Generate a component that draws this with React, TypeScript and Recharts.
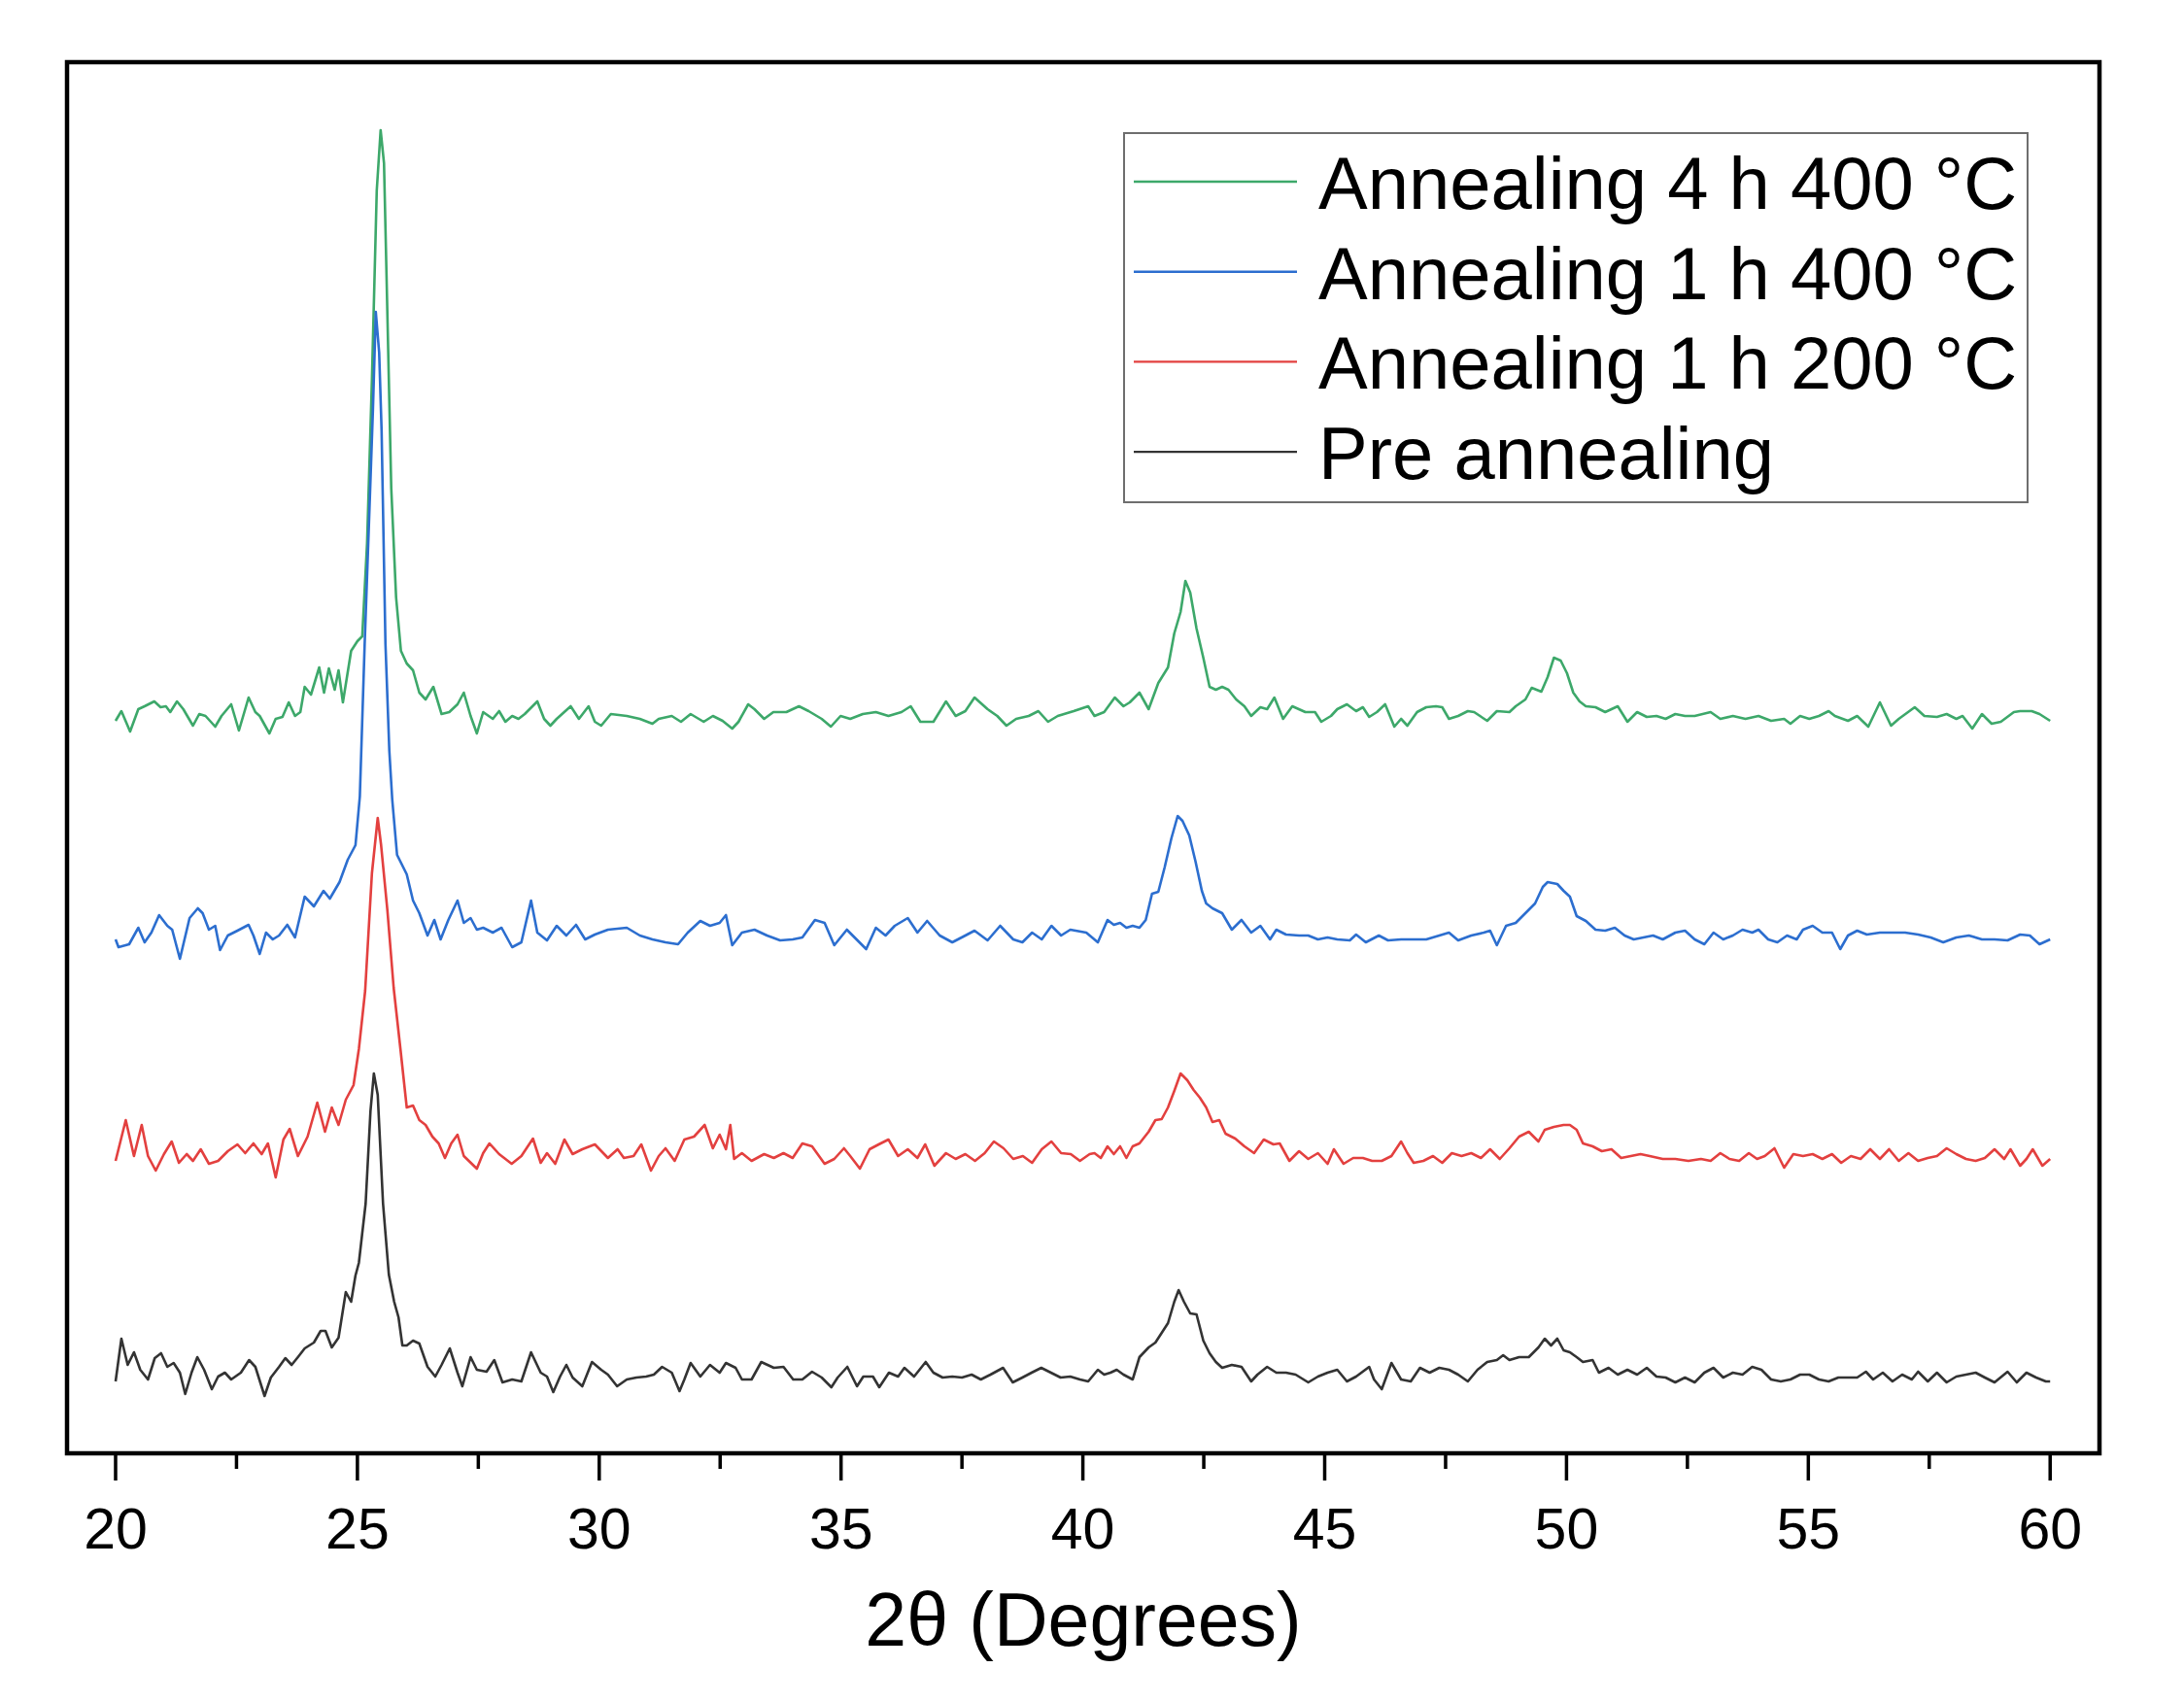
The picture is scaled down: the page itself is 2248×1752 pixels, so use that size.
import React from 'react';
import { LineChart, Line, XAxis, YAxis, ReferenceArea, Legend, Label } from 'recharts';

const FONT = '"Liberation Sans", Arial, Helvetica, sans-serif';

// ---- series meta ----
const seriesNames = ['Annealing 4 h 400 °C', 'Annealing 1 h 400 °C', 'Annealing 1 h 200 °C', 'Pre annealing'];
const seriesColors = ['#3DA86A', '#2C6ECF', '#E3403F', '#333333'];
// vertical stacking offsets (a.u.) for green, blue, red, black
const stackOffsets = [759, 533, 307, 81];

// ---- x axis ticks ----
const xTicks = [20, 22.5, 25, 27.5, 30, 32.5, 35, 37.5, 40, 42.5, 45, 47.5, 50, 52.5, 55, 57.5, 60];
const majorTickLabels = ['20', '25', '30', '35', '40', '45', '50', '55', '60'];

// ---- Annealing 4 h 400 °C (green) ----
const greenTheta = [
  20.00, 20.12, 20.30, 20.47, 20.60, 20.80, 20.93, 21.04, 21.13, 21.27,
  21.40, 21.60, 21.73, 21.86, 22.06, 22.19, 22.39, 22.55, 22.75, 22.89,
  22.98, 23.18, 23.31, 23.45, 23.58, 23.71, 23.82, 23.91, 24.04, 24.21,
  24.31, 24.41, 24.53, 24.61, 24.70, 24.87, 25.00, 25.10, 25.20, 25.30,
  25.40, 25.48, 25.55, 25.60, 25.70, 25.80, 25.90, 26.02, 26.15, 26.28,
  26.41, 26.57, 26.74, 26.90, 27.07, 27.20, 27.34, 27.47, 27.60, 27.80,
  27.93, 28.06, 28.20, 28.33, 28.46, 28.72, 28.86, 28.99, 29.12, 29.41,
  29.58, 29.78, 29.91, 30.04, 30.24, 30.57, 30.84, 31.10, 31.23, 31.50,
  31.69, 31.89, 32.16, 32.35, 32.55, 32.75, 32.88, 33.08, 33.21, 33.41,
  33.60, 33.87, 34.13, 34.33, 34.60, 34.79, 34.99, 35.19, 35.45, 35.72,
  35.98, 36.25, 36.44, 36.64, 36.91, 37.17, 37.37, 37.57, 37.76, 38.03,
  38.23, 38.42, 38.62, 38.88, 39.08, 39.28, 39.48, 39.81, 40.11, 40.24,
  40.44, 40.66, 40.84, 40.97, 41.17, 41.36, 41.56, 41.76, 41.89, 42.02,
  42.12, 42.22, 42.35, 42.49, 42.62, 42.75, 42.88, 43.01, 43.17, 43.34,
  43.48, 43.67, 43.81, 43.96, 44.14, 44.33, 44.60, 44.80, 44.93, 45.13,
  45.26, 45.46, 45.65, 45.79, 45.92, 46.08, 46.25, 46.44, 46.58, 46.71,
  46.91, 47.10, 47.30, 47.43, 47.57, 47.76, 47.96, 48.09, 48.36, 48.56,
  48.82, 48.95, 49.15, 49.28, 49.48, 49.61, 49.74, 49.88, 50.01, 50.14,
  50.27, 50.40, 50.60, 50.80, 51.06, 51.26, 51.46, 51.66, 51.86, 52.05,
  52.25, 52.45, 52.65, 52.98, 53.18, 53.44, 53.70, 53.97, 54.23, 54.50,
  54.63, 54.83, 55.02, 55.22, 55.42, 55.55, 55.82, 56.01, 56.24, 56.48,
  56.71, 56.87, 57.20, 57.40, 57.66, 57.86, 58.06, 58.19, 58.39, 58.59,
  58.79, 58.98, 59.25, 59.38, 59.62, 59.78, 60.00,
];
const greenIntensity = [
  -5, 5, -16, 7, 10, 15, 9, 10, 4, 15,
  7, -10, 2, 0, -11, 0, 12, -15, 19, 4,
  0, -18, -3, -1, 14, 0, 4, 30, 22, 50,
  24, 49, 27, 47, 14, 67, 77, 82, 178, 346,
  541, 603, 569, 458, 234, 122, 67, 54, 47, 24,
  17, 30, 2, 4, 12, 24, 0, -18, 4, -3,
  5, -6, 0, -3, 2, 15, -3, -10, -3, 10,
  -3, 10, -6, -10, 2, 0, -3, -8, -3, 0,
  -6, 2, -6, 0, -5, -13, -6, 12, 7, -3,
  4, 4, 10, 5, -3, -11, 0, -3, 2, 4,
  0, 4, 10, -6, -6, 15, 0, 5, 19, 7,
  0, -10, -3, 0, 5, -6, 0, 5, 10, 0,
  4, 19, 10, 14, 24, 7, 34, 50, 85, 107,
  139, 127, 90, 60, 30, 27, 30, 27, 17, 10,
  0, 9, 7, 19, -3, 10, 4, 4, -6, 0,
  7, 12, 5, 9, -1, 4, 12, -11, -3, -10,
  4, 9, 10, 9, -3, 0, 5, 4, -5, 5,
  4, 10, 17, 29, 25, 40, 60, 57, 44, 24,
  15, 10, 9, 4, 10, -6, 4, -1, 0, -3,
  2, 0, 0, 4, -3, 0, -3, 0, -5, -3,
  -8, 0, -3, 0, 5, 0, -5, 0, -11, 14,
  -10, -3, 9, 0, -1, 2, -3, 0, -13, 2,
  -8, -6, 4, 5, 5, 2, -5,
];

// ---- Annealing 1 h 400 °C (blue) ----
const blueTheta = [
  20.00, 20.06, 20.28, 20.47, 20.60, 20.74, 20.90, 21.07, 21.17, 21.33,
  21.53, 21.70, 21.80, 21.93, 22.06, 22.16, 22.32, 22.52, 22.75, 22.85,
  22.98, 23.11, 23.25, 23.38, 23.55, 23.71, 23.91, 24.10, 24.30, 24.43,
  24.63, 24.80, 24.96, 25.05, 25.15, 25.25, 25.32, 25.38, 25.45, 25.50,
  25.58, 25.66, 25.72, 25.82, 26.02, 26.15, 26.28, 26.45, 26.59, 26.72,
  26.88, 27.07, 27.20, 27.34, 27.47, 27.60, 27.80, 27.98, 28.20, 28.39,
  28.59, 28.72, 28.92, 29.12, 29.32, 29.52, 29.71, 29.91, 30.18, 30.57,
  30.84, 31.10, 31.37, 31.63, 31.83, 32.09, 32.29, 32.49, 32.62, 32.75,
  32.95, 33.21, 33.47, 33.74, 34.00, 34.20, 34.46, 34.66, 34.86, 35.12,
  35.32, 35.52, 35.72, 35.92, 36.11, 36.38, 36.58, 36.78, 37.04, 37.30,
  37.57, 37.76, 38.03, 38.29, 38.56, 38.75, 38.95, 39.15, 39.35, 39.55,
  39.74, 40.07, 40.31, 40.51, 40.64, 40.77, 40.90, 41.03, 41.17, 41.30,
  41.43, 41.56, 41.69, 41.83, 41.96, 42.06, 42.20, 42.33, 42.46, 42.55,
  42.68, 42.88, 43.08, 43.28, 43.48, 43.67, 43.87, 44.00, 44.20, 44.47,
  44.66, 44.86, 45.06, 45.26, 45.52, 45.65, 45.85, 46.12, 46.31, 46.58,
  46.84, 47.10, 47.37, 47.57, 47.76, 48.03, 48.29, 48.42, 48.56, 48.75,
  48.95, 49.15, 49.35, 49.51, 49.61, 49.81, 49.94, 50.07, 50.21, 50.40,
  50.60, 50.80, 51.00, 51.20, 51.39, 51.59, 51.79, 51.99, 52.25, 52.45,
  52.65, 52.85, 53.04, 53.24, 53.44, 53.64, 53.84, 53.97, 54.17, 54.36,
  54.56, 54.76, 54.89, 55.09, 55.29, 55.49, 55.66, 55.82, 56.01, 56.21,
  56.48, 56.74, 57.00, 57.27, 57.53, 57.79, 58.06, 58.32, 58.59, 58.85,
  59.12, 59.38, 59.58, 59.78, 60.00,
];
const blueIntensity = [
  -4, -12, -9, 8, -7, 3, 21, 10, 6, -24,
  18, 28, 23, 6, 10, -15, 0, 5, 11, 0,
  -19, 3, -4, 0, 11, -2, 40, 30, 46, 38,
  55, 78, 93, 143, 300, 440, 540, 642, 600, 520,
  300, 190, 140, 83, 63, 36, 23, 0, 16, -4,
  16, 36, 13, 18, 6, 8, 3, 8, -12, -7,
  36, 3, -5, 10, 0, 11, -4, 1, 6, 8,
  0, -4, -7, -9, 3, 15, 10, 13, 21, -10,
  3, 6, 0, -5, -4, -2, 16, 13, -10, 6,
  -4, -14, 8, 0, 10, 18, 3, 15, 0, -7,
  0, 5, -5, 10, -4, -7, 3, -4, 10, 0,
  6, 3, -7, 16, 11, 13, 8, 10, 8, 16,
  43, 45, 70, 100, 123, 118, 103, 76, 46, 33,
  28, 23, 6, 16, 3, 10, -4, 6, 1, 0,
  0, -4, -2, -4, -5, 1, -7, 0, -5, -4,
  -4, -4, 0, 3, -5, 0, 3, 5, -10, 10,
  13, 23, 33, 50, 55, 53, 46, 40, 20, 15,
  6, 5, 8, 0, -4, -2, 0, -4, 3, 5,
  -4, -9, 3, -4, 0, 6, 3, 6, -4, -7,
  0, -4, 6, 10, 3, 3, -14, 0, 5, 1,
  3, 3, 3, 1, -2, -7, -2, 0, -4, -4,
  -5, 1, 0, -9, -4,
];

// ---- Annealing 1 h 200 °C (red) ----
const redTheta = [
  20.00, 20.21, 20.38, 20.54, 20.67, 20.83, 21.00, 21.16, 21.31, 21.47,
  21.60, 21.76, 21.93, 22.12, 22.32, 22.52, 22.68, 22.85, 23.02, 23.15,
  23.31, 23.47, 23.60, 23.77, 23.97, 24.17, 24.33, 24.47, 24.61, 24.76,
  24.92, 25.03, 25.16, 25.30, 25.42, 25.49, 25.62, 25.75, 25.89, 26.02,
  26.15, 26.28, 26.41, 26.55, 26.68, 26.81, 26.94, 27.07, 27.20, 27.47,
  27.60, 27.73, 27.93, 28.19, 28.39, 28.63, 28.79, 28.92, 29.09, 29.28,
  29.45, 29.65, 29.91, 30.18, 30.38, 30.51, 30.71, 30.87, 31.07, 31.23,
  31.37, 31.56, 31.76, 31.96, 32.18, 32.35, 32.49, 32.62, 32.71, 32.79,
  32.95, 33.15, 33.41, 33.61, 33.81, 34.00, 34.20, 34.40, 34.66, 34.86,
  35.06, 35.19, 35.39, 35.59, 35.78, 35.98, 36.18, 36.38, 36.58, 36.74,
  36.93, 37.17, 37.37, 37.57, 37.77, 37.97, 38.16, 38.36, 38.56, 38.76,
  38.95, 39.15, 39.35, 39.55, 39.75, 39.94, 40.14, 40.24, 40.37, 40.51,
  40.64, 40.77, 40.90, 41.03, 41.17, 41.36, 41.50, 41.63, 41.76, 41.89,
  42.02, 42.16, 42.29, 42.42, 42.55, 42.68, 42.82, 42.95, 43.15, 43.34,
  43.54, 43.74, 43.94, 44.07, 44.27, 44.47, 44.66, 44.86, 45.06, 45.19,
  45.39, 45.59, 45.79, 45.98, 46.18, 46.38, 46.58, 46.71, 46.84, 47.04,
  47.24, 47.43, 47.63, 47.83, 48.03, 48.23, 48.42, 48.62, 48.82, 49.02,
  49.22, 49.42, 49.55, 49.74, 49.94, 50.07, 50.21, 50.34, 50.54, 50.73,
  50.93, 51.13, 51.33, 51.53, 51.72, 51.99, 52.25, 52.52, 52.78, 52.98,
  53.18, 53.37, 53.57, 53.77, 53.94, 54.10, 54.30, 54.50, 54.69, 54.89,
  55.09, 55.29, 55.49, 55.68, 55.88, 56.08, 56.28, 56.48, 56.67, 56.87,
  57.07, 57.27, 57.47, 57.66, 57.86, 58.06, 58.26, 58.46, 58.65, 58.85,
  59.05, 59.18, 59.38, 59.51, 59.64, 59.84, 60.00,
];
const redIntensity = [
  -6, 36, -1, 31, -1, -16, 1, 14, -8, 1,
  -6, 6, -9, -6, 4, 11, 2, 12, 1, 12,
  -23, 16, 27, -1, 19, 54, 24, 49, 31, 57,
  72, 109, 169, 290, 347, 319, 252, 172, 109, 49,
  51, 36, 31, 19, 12, -3, 12, 21, -1, -14,
  2, 12, 1, -9, -1, 17, -8, 2, -9, 16,
  1, 6, 11, -3, 6, -3, -1, 11, -16, -1,
  7, -6, 16, 19, 31, 7, 21, 6, 31, -4,
  2, -6, 1, -3, 2, -3, 12, 9, -9, -4,
  7, -1, -14, 6, 11, 16, -1, 6, -3, 11,
  -11, 2, -4, 1, -6, 2, 14, 7, -4, -1,
  -8, 6, 14, 2, 1, -6, 1, 2, -3, 9,
  1, 9, -3, 9, 12, 24, 36, 37, 49, 66,
  84, 77, 67, 59, 49, 34, 36, 22, 17, 9,
  2, 16, 11, 12, -6, 4, -4, 2, -9, 6,
  -9, -3, -3, -6, -6, -1, 14, 2, -8, -6,
  -1, -8, 2, -1, 2, -3, 6, -4, 7, 19,
  24, 14, 26, 29, 31, 31, 26, 12, 9, 4,
  6, -3, -1, 1, -1, -4, -4, -6, -4, -6,
  2, -4, -6, 2, -4, -1, 7, -13, 1, -1,
  1, -4, 1, -8, -1, -4, 6, -4, 6, -6,
  2, -6, -3, -1, 7, 1, -4, -6, -3, 6,
  -4, 6, -11, -4, 6, -11, -4,
];

// ---- Pre annealing (black) ----
const blackTheta = [
  20.00, 20.12, 20.25, 20.38, 20.51, 20.67, 20.81, 20.94, 21.07, 21.20,
  21.33, 21.44, 21.57, 21.69, 21.83, 21.99, 22.12, 22.26, 22.39, 22.59,
  22.76, 22.89, 23.08, 23.21, 23.38, 23.51, 23.64, 23.77, 23.91, 24.10,
  24.24, 24.34, 24.47, 24.61, 24.76, 24.87, 24.96, 25.03, 25.17, 25.27,
  25.34, 25.42, 25.53, 25.65, 25.76, 25.85, 25.93, 26.02, 26.15, 26.28,
  26.45, 26.61, 26.74, 26.91, 27.07, 27.17, 27.34, 27.47, 27.67, 27.83,
  28.00, 28.20, 28.39, 28.59, 28.79, 28.92, 29.05, 29.19, 29.32, 29.45,
  29.65, 29.85, 30.04, 30.18, 30.37, 30.57, 30.77, 30.97, 31.13, 31.30,
  31.50, 31.66, 31.76, 31.89, 32.09, 32.29, 32.49, 32.62, 32.82, 32.95,
  33.15, 33.35, 33.61, 33.81, 34.01, 34.20, 34.40, 34.60, 34.80, 34.93,
  35.13, 35.33, 35.46, 35.66, 35.79, 35.99, 36.18, 36.31, 36.51, 36.75,
  36.91, 37.10, 37.30, 37.50, 37.70, 37.89, 38.09, 38.35, 38.55, 38.75,
  38.94, 39.14, 39.34, 39.54, 39.74, 39.94, 40.11, 40.31, 40.44, 40.57,
  40.70, 40.84, 41.03, 41.17, 41.36, 41.50, 41.63, 41.76, 41.89, 41.98,
  42.09, 42.22, 42.35, 42.49, 42.62, 42.75, 42.88, 43.08, 43.28, 43.48,
  43.61, 43.81, 44.00, 44.20, 44.40, 44.66, 44.86, 45.06, 45.26, 45.46,
  45.65, 45.92, 46.02, 46.18, 46.38, 46.58, 46.78, 46.97, 47.17, 47.37,
  47.57, 47.76, 47.96, 48.16, 48.36, 48.56, 48.69, 48.82, 49.02, 49.22,
  49.42, 49.55, 49.68, 49.81, 49.94, 50.07, 50.21, 50.34, 50.54, 50.67,
  50.87, 51.06, 51.26, 51.46, 51.66, 51.86, 52.05, 52.25, 52.45, 52.65,
  52.85, 53.04, 53.24, 53.44, 53.64, 53.84, 54.03, 54.23, 54.43, 54.63,
  54.83, 55.02, 55.22, 55.42, 55.62, 55.82, 56.01, 56.19, 56.34, 56.54,
  56.74, 56.94, 57.14, 57.27, 57.47, 57.66, 57.86, 58.06, 58.26, 58.46,
  58.65, 58.85, 59.12, 59.31, 59.51, 59.71, 59.91, 60.00,
];
const blackIntensity = [
  -7, 37, 10, 23, 5, -5, 17, 22, 8, 12,
  2, -20, 2, 18, 5, -15, -2, 2, -5, 2,
  15, 8, -22, -3, 8, 17, 10, 18, 27, 33,
  45, 45, 28, 38, 85, 75, 102, 115, 176, 271,
  310, 288, 176, 103, 75, 59, 30, 30, 35, 32,
  8, -2, 10, 27, 2, -12, 18, 5, 3, 15,
  -8, -5, -7, 23, 2, -2, -18, -2, 10, -3,
  -12, 13, 5, 0, -12, -5, -3, -2, 0, 8,
  2, -17, -5, 12, -2, 10, 2, 12, 7, -5,
  -5, 13, 7, 8, -5, -5, 3, -3, -13, -3,
  8, -12, -2, -2, -13, 2, -2, 7, -2, 13,
  2, -3, -2, -3, 0, -5, 0, 7, -8, -3,
  2, 7, 2, -3, -2, -5, -7, 5, 0, 2,
  5, 0, -5, 18, 28, 33, 43, 53, 75, 87,
  75, 63, 62, 35, 22, 13, 7, 10, 8, -7,
  0, 8, 2, 2, 0, -8, -2, 2, 5, -7,
  -2, 8, -5, -15, 12, -5, -7, 7, 2, 7,
  5, 0, -7, 5, 13, 15, 20, 15, 18, 18,
  28, 37, 30, 37, 25, 23, 18, 13, 15, 2,
  7, 0, 5, 0, 7, -2, -3, -8, -3, -8,
  2, 7, -3, 2, 0, 8, 5, -5, -7, -5,
  0, 0, -5, -7, -3, -3, -3, 3, -5, 2,
  -7, 0, -5, 3, -7, 2, -8, -2, 0, 2,
  -3, -8, 3, -8, 2, -3, -7, -7,
];

const thetaSets = [greenTheta, blueTheta, redTheta, blackTheta];
const intensitySets = [greenIntensity, blueIntensity, redIntensity, blackIntensity];

const seriesData = thetaSets.map((thetas, s) =>
  thetas.map((t, i) => ({ t, v: intensitySets[s][i] + stackOffsets[s] }))
);

const X_DOMAIN: [number, number] = [18.996, 61.02];
const Y_DOMAIN: [number, number] = [0, 1432];

function AxisTick(props: any) {
  const { x, y, payload } = props;
  const val = payload.value as number;
  const label = majorTickLabels.find((l) => Number(l) === val);
  const isMajor = label !== undefined;
  return (
    <g>
      <line x1={x} x2={x} y1={y} y2={y + (isMajor ? 28 : 16)} stroke="#000" strokeWidth={3.5} />
      {isMajor && (
        <text x={x} y={y + 98} textAnchor="middle" fontSize={59} fontFamily={FONT} fill="#000">
          {label}
        </text>
      )}
    </g>
  );
}

function LegendBox() {
  return (
    <svg width={932} height={382} style={{ display: 'block' }}>
      <rect x={1} y={1} width={930} height={380} fill="#fff" stroke="#6e6e6e" strokeWidth={2} />
      {seriesNames.map((name, i) => {
        const cy = 51 + i * 92.7;
        return (
          <g key={name}>
            <line x1={11} x2={179} y1={cy} y2={cy} stroke={seriesColors[i]} strokeWidth={2.4} />
            <text x={201} y={cy + 28} fontSize={76} fontFamily={FONT} fill="#000">
              {name}
            </text>
          </g>
        );
      })}
    </svg>
  );
}

export default function App() {
  return (
    <div style={{ position: 'absolute', left: 0, top: 0, width: 2248, height: 1752, background: '#fff', fontFamily: FONT }}>
      <LineChart width={2248} height={1752} margin={{ top: 64, right: 87, left: 69, bottom: 36 }}>
        <XAxis
          dataKey="t"
          type="number"
          domain={X_DOMAIN}
          ticks={xTicks}
          interval={0}
          allowDataOverflow
          axisLine={false}
          tickLine={false}
          tickSize={0}
          tickMargin={0}
          height={220}
          tick={(p: any) => <AxisTick {...p} />}
        >
          <Label
            value="2θ (Degrees)"
            position="insideBottom"
            offset={22}
            style={{ fontSize: 77, fill: '#000', fontFamily: FONT }}
          />
        </XAxis>
        <YAxis type="number" domain={Y_DOMAIN} hide allowDataOverflow />
        {seriesData.map((d, i) => (
          <Line
            key={seriesNames[i]}
            data={d}
            dataKey="v"
            name={seriesNames[i]}
            type="linear"
            stroke={seriesColors[i]}
            strokeWidth={2.6}
            strokeLinejoin="round"
            dot={false}
            activeDot={false}
            isAnimationActive={false}
          />
        ))}
        <ReferenceArea
          x1={X_DOMAIN[0]}
          x2={X_DOMAIN[1]}
          y1={Y_DOMAIN[0]}
          y2={Y_DOMAIN[1]}
          fill="none"
          fillOpacity={0}
          stroke="#000"
          strokeWidth={4.5}
          ifOverflow="visible"
        />
        <Legend
          layout="vertical"
          align="center"
          verticalAlign="middle"
          wrapperStyle={{ left: 1156, top: 136, width: 932, height: 382 }}
          content={() => <LegendBox />}
        />
      </LineChart>
    </div>
  );
}
